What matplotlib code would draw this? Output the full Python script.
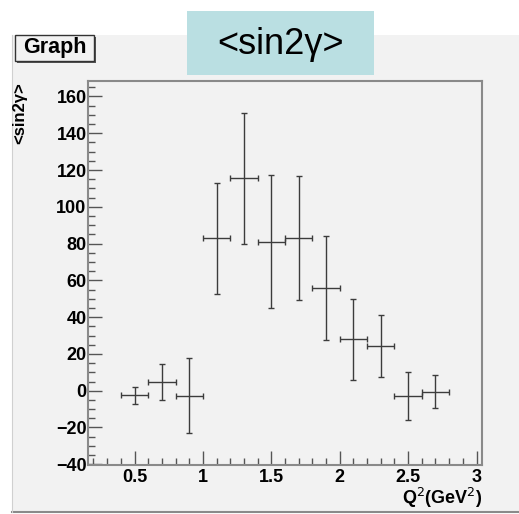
import matplotlib
matplotlib.use("Agg")
import matplotlib.pyplot as plt
from matplotlib.patches import Rectangle
from matplotlib.lines import Line2D
from matplotlib.ticker import MultipleLocator

# Data
q2 = [0.5, 0.7, 0.9, 1.1, 1.3, 1.5, 1.7, 1.9, 2.1, 2.3, 2.5, 2.7]
q2_err = [0.1] * 12
sin2g = [-2.6, 4.8, -2.8, 82.8, 115.4, 81.0, 83.0, 55.8, 28.0, 24.4, -2.8, -0.5]
sin2g_err = [4.5, 9.8, 20.4, 30.0, 35.6, 36.3, 33.7, 28.5, 22.0, 16.7, 12.9, 9.0]

title = "<sin2γ>"
ylabel = "<sin2γ>"
xlabel = "Q$^{2}$(GeV$^{2}$)"

W, H = 519, 514
fig = plt.figure(figsize=(W / 100, H / 100), dpi=100)
fig.patch.set_facecolor("white")

# ROOT canvas background
fig.patches.append(Rectangle((12 / W, 1 - 512 / H), (W - 12) / W, (512 - 35) / H,
                             transform=fig.transFigure, facecolor="#f2f2f2",
                             edgecolor="none", zorder=-5))
fig.lines.append(Line2D([12 / W, 1], [1 - 512 / H, 1 - 512 / H], transform=fig.transFigure,
                        color="#8a8a8a", lw=1.5, zorder=-4))
fig.lines.append(Line2D([12 / W, 12 / W], [1 - 512 / H, 1 - 35 / H], transform=fig.transFigure,
                        color="#d0d0d0", lw=0.8, zorder=-4))

ax = fig.add_axes([88 / W, 1 - 465 / H, (482 - 88) / W, (465 - 81) / H])
ax.set_facecolor("#f2f2f2")
ax.errorbar(q2, sin2g, xerr=q2_err, yerr=sin2g_err, fmt="none", ecolor="#3c3c3c",
            elinewidth=1.0, capsize=2, capthick=1.0)

ax.set_xlim(0.16, 3.04)
ax.set_ylim(-40.4, 168.4)
ax.xaxis.set_major_locator(MultipleLocator(0.5))
ax.xaxis.set_minor_locator(MultipleLocator(0.1))
ax.yaxis.set_major_locator(MultipleLocator(20))
ax.yaxis.set_minor_locator(MultipleLocator(5))
ax.set_xticks([0.5, 1, 1.5, 2, 2.5, 3])
ax.set_xticklabels(["0.5", "1", "1.5", "2", "2.5", "3"])
ax.tick_params(axis="both", which="both", direction="in", colors="#555555",
               labelcolor="black", top=False, right=False)
ax.tick_params(axis="x", which="major", length=10, width=1, pad=3)
ax.tick_params(axis="x", which="minor", length=5, width=1)
ax.tick_params(axis="y", which="major", length=10, width=1, pad=1)
ax.tick_params(axis="y", which="minor", length=5, width=1)
for lbl in ax.get_xticklabels() + ax.get_yticklabels():
    lbl.set_fontweight("bold")
    lbl.set_fontsize(13)
    lbl.set_fontfamily("Liberation Sans")
for s in ax.spines.values():
    s.set_color("#8a8a8a")
    s.set_linewidth(1.5)

# Axis labels (ROOT style)
fig.text(482 / W, 1 - 498 / H, xlabel, ha="right", va="center", fontsize=13,
         fontweight="bold", family="Liberation Sans")
fig.text(20 / W, 1 - 113 / H, ylabel, ha="center", va="center", rotation=90,
         fontsize=12, fontweight="bold", family="Liberation Sans")

# "Graph" title box
fig.patches.append(Rectangle((17 / W, 1 - 63 / H), (96 - 17) / W, (63 - 37) / H,
                             transform=fig.transFigure, facecolor="#555555",
                             edgecolor="none", zorder=2))
fig.patches.append(Rectangle((15 / W, 1 - 61 / H), (94 - 15) / W, (61 - 35) / H,
                             transform=fig.transFigure, facecolor="#f2f2f2",
                             edgecolor="#333333", lw=1.0, zorder=3))
fig.text(54.5 / W, 1 - 48 / H, "Graph", ha="center", va="center", fontsize=15.5,
         fontweight="bold", family="Liberation Sans", zorder=4)

# Overlaid title box
fig.patches.append(Rectangle((187 / W, 1 - 75 / H), (374 - 187) / W, (75 - 11) / H,
                             transform=fig.transFigure, facecolor="#badfe2",
                             edgecolor="none", zorder=5))
fig.text(280.5 / W, 1 - 44 / H, title, ha="center", va="center", fontsize=26,
         family="Liberation Sans", zorder=6)

fig.savefig("out.png", dpi=100)
